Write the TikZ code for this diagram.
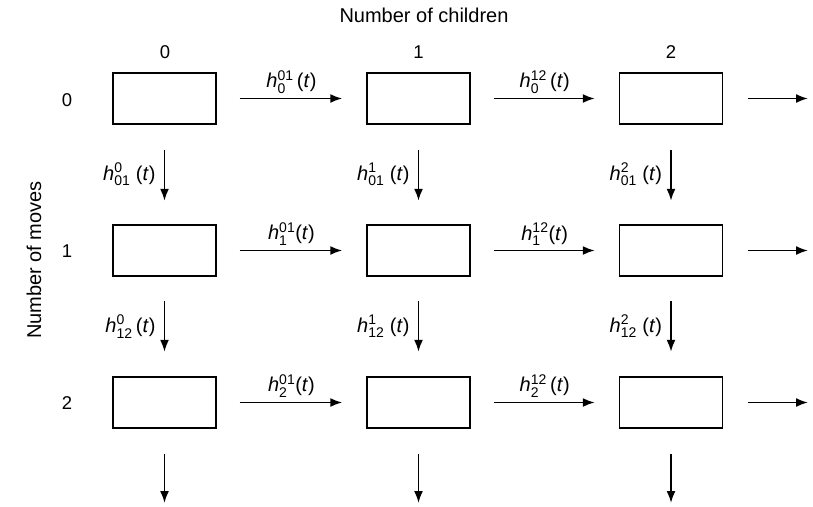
\documentclass[tikz,border=0pt]{standalone}
\usepackage{amsmath}
\usepackage{fontspec}
\setmainfont{Liberation Sans}
\usetikzlibrary{arrows.meta}
\newcommand{\hlab}[3]{\textit{h}$^{\text{#1}}_{\text{#2}}$#3(\textit{t})}
\begin{document}
\begin{tikzpicture}[x=1pt,y=-1pt,font=\fontsize{18.5}{22}\selectfont,
  cell/.style={draw,line width=1.4pt,minimum width=103pt,minimum height=51pt,inner sep=0pt},
  flow/.style={-{Latex[length=12pt,width=9pt]},line width=1.9pt},
  hlabel/.style={above=3pt,inner sep=1pt,font=\fontsize{20}{22}\selectfont},
  vlabel/.style={left=7pt,inner sep=1pt,font=\fontsize{20}{22}\selectfont},
  big/.style={font=\fontsize{20}{24}\selectfont}]
\useasboundingbox (0,0) rectangle (813,506);
% titles
\node[big] (title) at (424,15) {Number of children};
\node[big,rotate=90] (ytitle) at (34,260) {Number of moves};
\node (c0) at (165,52) {0};
\node (c1) at (418.5,52) {1};
\node (c2) at (671,52) {2};
\node (r0) at (67,100) {0};
\node (r1) at (67,251) {1};
\node (r2) at (67,403) {2};
% boxes
\foreach \r/\y in {0/98.5,1/250.5,2/402.5}{
  \foreach \c/\x in {0/164.5,1/418.5,2/671}{
    \node[cell] (b\r\c) at (\x,\y) {};
  }
}
% horizontal arrows
\draw[flow,shorten <=23pt,shorten >=24pt] (b00.east) -- node[hlabel]{\hlab{01}{0}{\,}} (b01.west);
\draw[flow,shorten <=23pt,shorten >=24pt] (b01.east) -- node[hlabel]{\hlab{12}{0}{\,}} (b02.west);
\draw[flow,shorten <=23pt,shorten >=24pt] (b10.east) -- node[hlabel]{\hlab{01}{1}{}} (b11.west);
\draw[flow,shorten <=23pt,shorten >=24pt] (b11.east) -- node[hlabel]{\hlab{12}{1}{}} (b12.west);
\draw[flow,shorten <=23pt,shorten >=24pt] (b20.east) -- node[hlabel]{\hlab{01}{2}{}} (b21.west);
\draw[flow,shorten <=23pt,shorten >=24pt] (b21.east) -- node[hlabel]{\hlab{12}{2}{\,}} (b22.west);
\coordinate (e0) at (808,98.5);
\coordinate (e1) at (808,250.5);
\coordinate (e2) at (808,402.5);
\draw[flow,shorten <=24.5pt] (b02.east) -- (e0);
\draw[flow,shorten <=24.5pt] (b12.east) -- (e1);
\draw[flow,shorten <=24.5pt] (b22.east) -- (e2);
% vertical arrows
\draw[flow,shorten <=25pt,shorten >=23.5pt] (b00.south) -- node[vlabel]{\hlab{0}{01}{\ }} (b10.north);
\draw[flow,shorten <=25pt,shorten >=23.5pt] (b01.south) -- node[vlabel]{\hlab{1}{01}{\ }} (b11.north);
\draw[flow,shorten <=25pt,shorten >=23.5pt] (b02.south) -- node[vlabel]{\hlab{2}{01}{\ }} (b12.north);
\draw[flow,shorten <=24.5pt,shorten >=24.5pt] (b10.south) -- node[vlabel]{\hlab{0}{12}{\,}} (b20.north);
\draw[flow,shorten <=24.5pt,shorten >=24.5pt] (b11.south) -- node[vlabel]{\hlab{1}{12}{\ }} (b21.north);
\draw[flow,shorten <=24.5pt,shorten >=24.5pt] (b12.south) -- node[vlabel]{\hlab{2}{12}{\ }} (b22.north);
\coordinate (s0) at (164.5,503);
\coordinate (s1) at (418.5,503);
\coordinate (s2) at (671,503);
\draw[flow,shorten <=25pt] (b20.south) -- (s0);
\draw[flow,shorten <=25pt] (b21.south) -- (s1);
\draw[flow,shorten <=25pt] (b22.south) -- (s2);
\end{tikzpicture}
\end{document}
